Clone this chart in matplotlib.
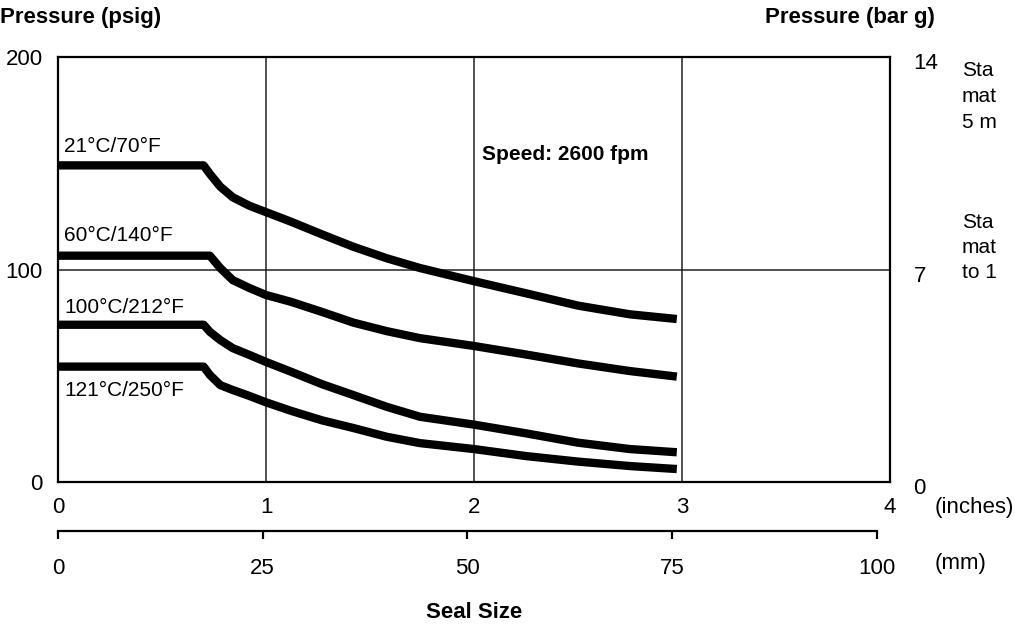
import numpy as np
import matplotlib
matplotlib.use('Agg')
import matplotlib.pyplot as plt
import matplotlib.transforms as mtransforms

plt.rcParams['font.family'] = ['Liberation Sans', 'DejaVu Sans']

# seal size (inches) / pressure (psig)
size_in = [0, 0.70, 0.73, 0.78, 0.84, 0.92, 1.00, 1.12, 1.27, 1.42, 1.58, 1.74,
           2.00, 2.25, 2.50, 2.75, 2.975]
p_21c = [149, 149, 145, 139, 134, 130, 127, 122.5, 116.5, 110.7, 105.3, 100.7,
         94.5, 88.8, 83, 78.9, 76.7]
p_60c = [106.5, 106.5, 106.5, 100.7, 95, 91.3, 88, 84.8, 80, 75, 71, 67.7,
         64, 60, 55.8, 52.2, 49.6]
p_100c = [74, 74, 70.7, 66.8, 63, 59.8, 56.5, 51.9, 46, 40.9, 35.4, 30.7,
          27, 22.9, 18.5, 15.5, 14]
p_121c = [54.3, 54.3, 50.4, 45.6, 43.3, 40.5, 37.5, 33.5, 29, 25.4, 21.3, 18.3,
          15.5, 12.2, 9.6, 7.5, 6.1]

curve_labels = ['21°C/70°F', '60°C/140°F', '100°C/212°F', '121°C/250°F']
label_psig = [158, 116, 82, 43]

x_ticks_in = [0, 1, 2, 3, 4]
y_ticks_psig = [0, 100, 200]
y_ticks_bar = [0, 7, 14]
mm_ticks = [0, 25, 50, 75, 100]

# notes at the right edge (only this much shows in the picture)
note_lines = ['Sta', 'mat', '5 m', 'Sta', 'mat', 'to 1']
note_ypx = [70, 96, 122, 222, 248, 272]

W, H = 1015, 627
fig = plt.figure(figsize=(W / 100, H / 100), dpi=100)
L, R, B, T = 58, 890, 482, 57
ax = fig.add_axes([L / W, 1 - B / H, (R - L) / W, (B - T) / H])
ax.set_xlim(0, 4)
ax.set_ylim(0, 200)

for s in ax.spines.values():
    s.set_linewidth(1.6)

# grid lines
for xv in [1, 2, 3]:
    ax.axvline(xv, color='#222222', lw=1.1, zorder=1)
ax.axhline(100, color='#222222', lw=1.1, zorder=1)

for p in [p_21c, p_60c, p_100c, p_121c]:
    ax.plot(size_in, p, color='black', lw=6, solid_joinstyle='round',
            solid_capstyle='butt', zorder=3, clip_on=False)

for lab, yv in zip(curve_labels, label_psig):
    ax.text(0.03, yv, lab, fontsize=15, va='center', ha='left')

ax.text(2.04, 154, 'Speed: 2600 fpm', fontsize=15, fontweight='bold', va='center')

ax.set_xticks(x_ticks_in)
ax.set_xticklabels([str(v) for v in x_ticks_in])
ax.set_yticks(y_ticks_psig)
ax.set_yticklabels([str(v) for v in y_ticks_psig])
ax.tick_params(axis='both', length=0, labelsize=16)
ax.tick_params(axis='x', pad=11)
ax.tick_params(axis='y', pad=11)

ax2 = ax.twinx()
ax2.set_ylim(0, 14)
ax2.set_yticks(y_ticks_bar)
ax2.set_yticklabels([str(v) for v in y_ticks_bar])
ax2.tick_params(axis='y', length=0, labelsize=16, pad=17)
for s in ax2.spines.values():
    s.set_visible(False)
shift = mtransforms.ScaledTranslation(0, -4 / 100, fig.dpi_scale_trans)
for lab in ax2.get_yticklabels():
    lab.set_transform(lab.get_transform() + shift)

# second scale in mm
axm = fig.add_axes([L / W, 1 - 532 / H, (R - L) / W, 0.001])
axm.set_xlim(0, 4 * 25.4)
axm.set_ylim(0, 1)
for k in ['left', 'right', 'bottom']:
    axm.spines[k].set_visible(False)
axm.spines['top'].set_linewidth(1.6)
axm.spines['top'].set_bounds(0, 100)
axm.patch.set_alpha(0)
axm.set_yticks([])
axm.set_xticks(mm_ticks)
axm.set_xticklabels([str(v) for v in mm_ticks])
axm.tick_params(axis='x', direction='in', length=6, width=1.6, top=True,
                bottom=False, labeltop=False, labelbottom=True, labelsize=16, pad=19)

fig.text(935 / W, 1 - 507 / H, '(inches)', fontsize=16, va='center')
fig.text(935 / W, 1 - 563 / H, '(mm)', fontsize=16, va='center')
fig.text(474 / W, 1 - 612 / H, 'Seal Size', fontsize=16, fontweight='bold',
         ha='center', va='center')
fig.text(0, 1 - 18 / H, 'Pressure (psig)', fontsize=16, fontweight='bold', va='center')
fig.text(935 / W, 1 - 18 / H, 'Pressure (bar g)', fontsize=16, fontweight='bold',
         va='center', ha='right')

for txt, ypx in zip(note_lines, note_ypx):
    fig.text(962 / W, 1 - ypx / H, txt, fontsize=15, va='center', ha='left')

fig.savefig('out.png', dpi=100)
